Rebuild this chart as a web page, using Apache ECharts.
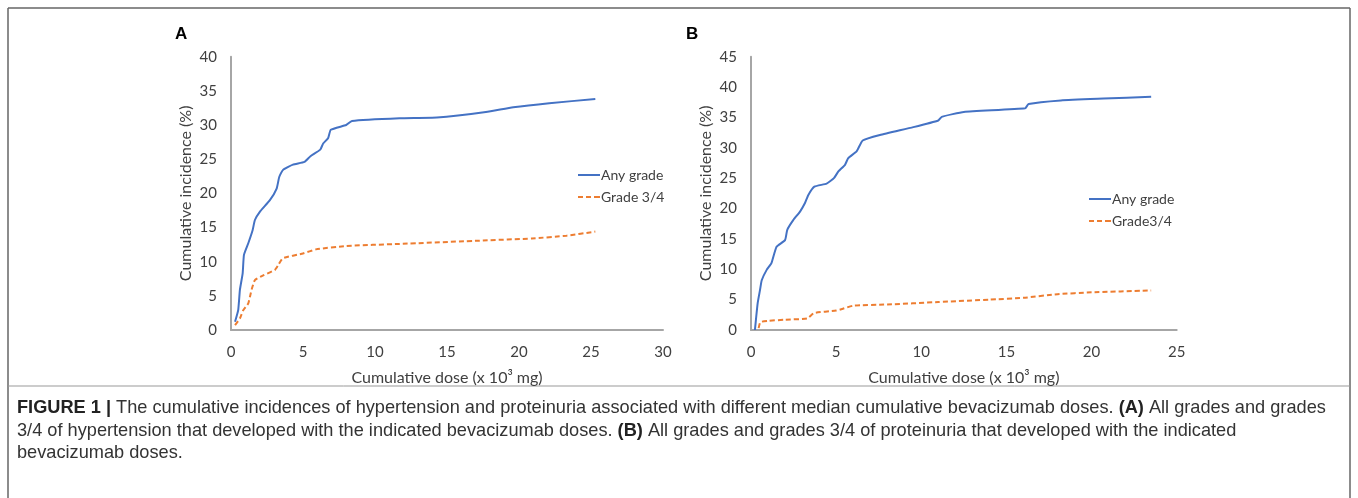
<!DOCTYPE html>
<html><head><meta charset="utf-8">
<script src="https://cdn.jsdelivr.net/npm/echarts@6/dist/echarts.min.js"></script>
<style>html,body{margin:0;padding:0;background:#fff}#c{width:1358px;height:498px}</style>
</head><body><div id="c"></div>
<script>
// Panel A (hypertension)
const doseA_any = [0.28,0.5,0.62,0.81,0.9,1.2,1.5,1.66,2.0,2.7,3.17,3.35,3.6,4.3,5.1,5.5,6.2,6.4,6.75,6.93,8.0,8.4,11.7,14.3,17.7,19.6,22.1,25.3];
const incA_any  = [1.2,2.9,5.9,8.3,11,12.7,14.6,16.1,17.3,19,20.7,22.4,23.4,24.2,24.6,25.4,26.4,27.3,28.1,29.3,30,30.6,31,31.1,31.9,32.6,33.2,33.8];
const doseA_g34 = [0.28,0.62,0.85,1.2,1.43,1.66,2.24,3.05,3.28,3.6,5.0,5.9,8.0,11.7,17.5,20.9,23.3,25.3];
const incA_g34  = [0.7,1.7,2.9,3.9,5.9,7.3,8.0,8.8,9.5,10.5,11.2,11.8,12.3,12.6,13.1,13.4,13.8,14.4];
// Panel B (proteinuria)
const doseB_any = [0.23,0.39,0.53,0.63,0.92,1.2,1.5,2.0,2.13,2.48,2.88,3.17,3.36,3.72,4.44,4.87,5.13,5.52,5.71,6.2,6.56,7.57,9.53,11.0,11.2,12.5,16.1,16.3,18.2,20.7,23.5];
const incB_any  = [0,4.4,6.6,8.2,9.9,11,13.7,14.8,16.5,18.1,19.5,20.9,22.2,23.6,24.1,25,26.1,27.2,28.3,29.4,31.2,32.1,33.4,34.5,35.1,35.9,36.5,37.2,37.8,38.1,38.4];
const doseB_g34 = [0.45,0.55,1.0,2.0,3.3,3.7,5.0,5.4,6.0,8.0,11.0,14.0,16.0,18.0,20.0,23.5];
const incB_g34  = [0.3,1.3,1.5,1.7,1.9,2.8,3.2,3.5,4.0,4.2,4.6,5.0,5.3,5.9,6.2,6.5];

const seriesNamesA = ['Any grade','Grade 3/4'];
const seriesNamesB = ['Any grade','Grade3/4'];
const xAxisA = {min:0, max:30, interval:5};
const yAxisA = {min:0, max:40, interval:5};
const xAxisB = {min:0, max:25, interval:5};
const yAxisB = {min:0, max:45, interval:5};
const xTitle = 'Cumulative dose (x 10\u00B3 mg)';
const yTitle = 'Cumulative incidence (%)';
const captionLines = [
  '{b|FIGURE 1 |} The cumulative incidences of hypertension and proteinuria associated with different median cumulative bevacizumab doses. {b|(A)} All grades and grades',
  '3/4 of hypertension that developed with the indicated bevacizumab doses. {b|(B)} All grades and grades 3/4 of proteinuria that developed with the indicated',
  'bevacizumab doses.'
];

const zip = (a,b) => a.map((v,i)=>[v,b[i]]);
const BLUE = '#4472C4', ORANGE = '#ED7D31';
const tickFont = {fontFamily:'Lato', fontSize:15, color:'#404040'};
const nameFont = {fontFamily:'Lato', fontSize:16, color:'#404040'};
const axLine = {show:true, lineStyle:{color:'#a6a6a6', width:2}};
const SOLID_ICON = 'path://M0,0H22V2H0Z';
const DASH_ICON = 'path://M0,0H5V2H0ZM8,0H13V2H8ZM16,0H22V2H16Z';

function xAx(cfg, gi){
  return Object.assign({type:'value', gridIndex:gi, name:xTitle, nameLocation:'middle', nameGap:40,
    nameTextStyle:nameFont, axisLine:axLine, axisTick:{show:false}, splitLine:{show:false},
    axisLabel:Object.assign({margin:15}, tickFont)}, cfg);
}
function yAx(cfg, gi){
  return Object.assign({type:'value', gridIndex:gi, name:yTitle, nameLocation:'middle', nameGap:37,
    nameTextStyle:nameFont, axisLine:axLine, axisTick:{show:false}, splitLine:{show:false},
    axisLabel:Object.assign({margin:14}, tickFont)}, cfg);
}
function ln(name, data, color, dashed, gi){
  return {type:'line', name, data, xAxisIndex:gi, yAxisIndex:gi, symbol:'none', showSymbol:false,
    smooth:0.15, lineStyle:{color, width:2, type: dashed ? [5,3] : 'solid'}, itemStyle:{color},
    emphasis:{disabled:true}, animation:false};
}
function lg(names, left, top){
  return {data:[{name:names[0], icon:SOLID_ICON},{name:names[1], icon:DASH_ICON}],
    left, top, padding:0, orient:'vertical', itemWidth:22, itemHeight:2, itemGap:5,
    textStyle:{fontFamily:'Lato', fontSize:14, lineHeight:17, color:'#404040', padding:[0,0,0,-4]},
    selectedMode:false};
}

const chart = echarts.init(document.getElementById('c'), null, {renderer:'canvas'});
const CAPF = 'Liberation Sans, Arial';
const capStyle = (t, y) => ({type:'text', left:17, top:y, style:{text:t, fontFamily:CAPF, fontSize:18.2, lineHeight:20, fill:'#333',
  rich:{b:{fontFamily:CAPF, fontSize:18.2, lineHeight:20, fontWeight:'bold', fill:'#222'}}}});

chart.setOption({
  animation:false,
  backgroundColor:'#fff',
  grid:[
    {left:231, top:56.7, width:432, height:273.3},
    {left:751, top:56.7, width:425.7, height:273.3}
  ],
  xAxis:[xAx(xAxisA,0), xAx(xAxisB,1)],
  yAxis:[yAx(yAxisA,0), yAx(yAxisB,1)],
  legend:[lg(seriesNamesA, 578, 166.5), lg(seriesNamesB, 1089, 190.5)],
  series:[
    ln(seriesNamesA[0], zip(doseA_any, incA_any), BLUE, false, 0),
    ln(seriesNamesA[1], zip(doseA_g34, incA_g34), ORANGE, true, 0),
    ln(seriesNamesB[0], zip(doseB_any, incB_any), BLUE, false, 1),
    ln(seriesNamesB[1], zip(doseB_g34, incB_g34), ORANGE, true, 1)
  ],
  graphic:[
    {type:'line', shape:{x1:8, y1:8, x2:1350, y2:8}, style:{stroke:'#666', lineWidth:1.5}},
    {type:'line', shape:{x1:8, y1:8, x2:8, y2:498}, style:{stroke:'#666', lineWidth:1.5}},
    {type:'line', shape:{x1:1350, y1:8, x2:1350, y2:498}, style:{stroke:'#666', lineWidth:1.5}},
    {type:'line', shape:{x1:8, y1:386, x2:1350, y2:386}, style:{stroke:'#999', lineWidth:1}},
    {type:'text', left:175, top:26, style:{text:'A', fontFamily:CAPF, fontSize:17, fontWeight:'bold', fill:'#000'}},
    {type:'text', left:686, top:26, style:{text:'B', fontFamily:CAPF, fontSize:17, fontWeight:'bold', fill:'#000'}},
    capStyle(captionLines[0], 398),
    capStyle(captionLines[1], 421),
    capStyle(captionLines[2], 443)
  ]
});
</script></body></html>
